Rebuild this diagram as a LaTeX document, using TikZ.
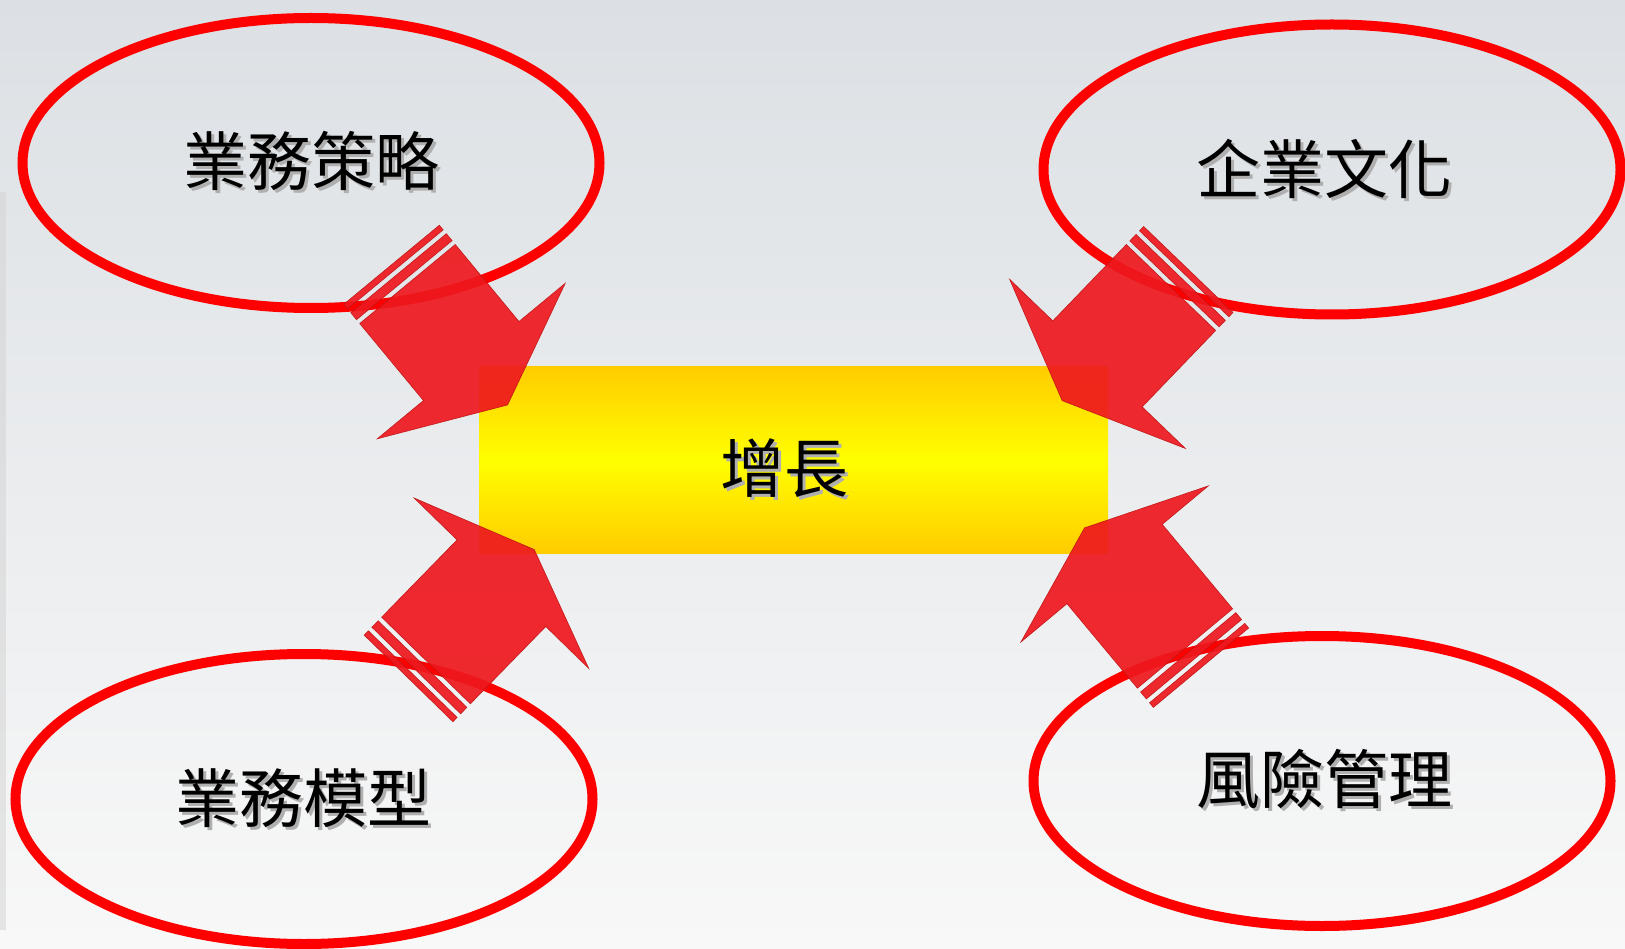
\documentclass[tikz,border=0pt]{standalone}
\usepackage{fontspec}
\newfontfamily\cjk{Noto Sans CJK TC}
\usetikzlibrary{shapes.geometric}
\definecolor{bgtop}{RGB}{220,224,228}
\definecolor{bgbot}{RGB}{248,248,248}
\definecolor{ellred}{RGB}{255,0,0}
\definecolor{arrfill}{RGB}{238,24,30}
\definecolor{arredge}{RGB}{190,20,20}
\definecolor{boxedge}{RGB}{255,204,0}
\definecolor{boxmid}{RGB}{255,255,0}
\definecolor{shadowgray}{RGB}{175,175,175}
\tikzset{
  ring/.style={ellipse, draw=ellred, line width=10pt, minimum width=577pt, minimum height=290pt, inner sep=0pt},
  cjktext/.style={font=\cjk\fontsize{64}{64}\selectfont, inner sep=0pt, text=black},
  cjkshadow/.style={cjktext, text=shadowgray},
  arrbody/.style={fill=arrfill, fill opacity=0.92, draw=arredge, draw opacity=0.9, line width=0.6pt, line join=miter},
}
\newcommand\blockarrow[5]{%
  \begin{scope}[shift={(#1,#2)}, rotate=#3]
    \path[arrbody] (-14,-62) rectangle (-5,62);
    \path[arrbody] (-25,-62) rectangle (-19,62);
    \path[arrbody] (0,-62) -- (#4,-62) -- (#4,-122) -- ({#4+#5},0) -- (#4,122) -- (#4,62) -- (0,62) -- cycle;
  \end{scope}}
\begin{document}
\begin{tikzpicture}[x=1pt,y=-1pt]
\useasboundingbox (0,0) rectangle (1625,949);
\shade[top color=bgtop, bottom color=bgbot] (0,0) rectangle (1625,949);
\fill[gray!35, opacity=0.5] (0,192) rectangle (6,930);
% ellipses
\node[ring] (e1) at (311,163) {};
\node[ring] (e2) at (1332,169.5) {};
\node[ring] (e3) at (304,799) {};
\node[ring] (e4) at (1322,781) {};
% central box
\node[top color=boxedge, bottom color=boxedge, middle color=boxmid, minimum width=629pt, minimum height=186pt, inner sep=0pt] (grow) at (793.5,460) {};
% arrows
\blockarrow{407.5}{284}{-50.4}{100}{57}
\blockarrow{1171}{287.5}{-133.9}{106}{51}
\blockarrow{426}{660.5}{45.7}{108}{47}
\blockarrow{1185}{648.5}{129.8}{110}{47}
% texts
\node[cjkshadow] (s1) at (314,164) {業務策略};
\node[cjktext] (t1) at (311,161) {業務策略};
\node[cjkshadow] (s2) at (1327,172) {企業文化};
\node[cjktext] (t2) at (1324,169) {企業文化};
\node[cjkshadow] (s3) at (306,801) {業務模型};
\node[cjktext] (t3) at (303,798) {業務模型};
\node[cjkshadow] (s4) at (1327,782) {風險管理};
\node[cjktext] (t4) at (1324,779) {風險管理};
\node[cjkshadow] (s5) at (787.5,471) {增長};
\node[cjktext] (t5) at (784.5,468) {增長};
\end{tikzpicture}
\end{document}
